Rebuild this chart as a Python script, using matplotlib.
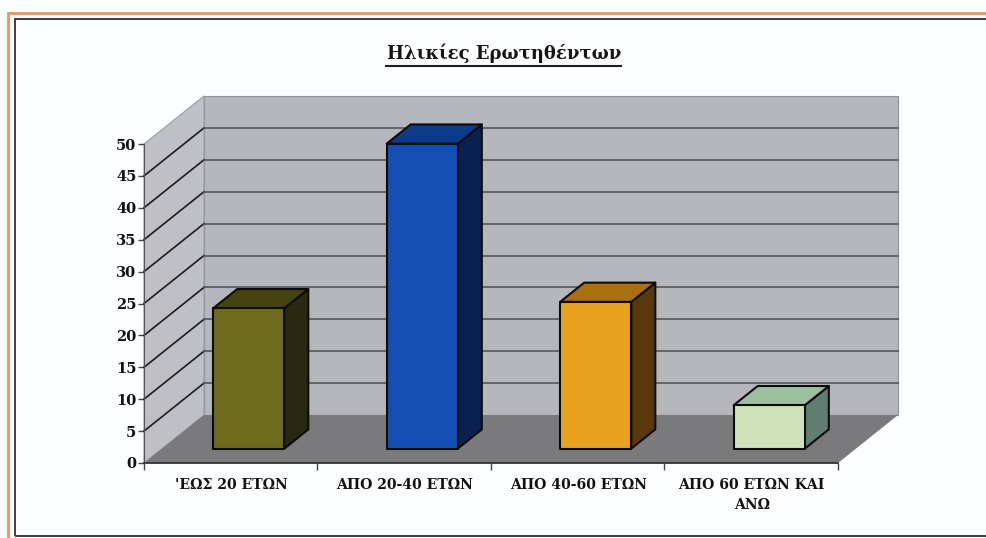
import matplotlib
matplotlib.use('Agg')
import matplotlib.pyplot as plt
from matplotlib.patches import Polygon, Rectangle

plt.rcParams['font.family'] = ['DejaVu Serif']

categories = ["'ΕΩΣ 20 ΕΤΩΝ", 'ΑΠΟ 20-40 ΕΤΩΝ', 'ΑΠΟ 40-60 ΕΤΩΝ', 'ΑΠΟ 60 ΕΤΩΝ ΚΑΙ\nΑΝΩ']
values = [22, 47.8, 23, 6.8]
front_colors = ['#6e6b1e', '#1450b4', '#e8a220', '#cfe2ba']
top_colors = ['#45430f', '#0e3a8a', '#a8700f', '#9cbf9e']
side_colors = ['#29290f', '#0a2050', '#5a3a0c', '#5f7d70']
yticks = list(range(0, 55, 5))

W, H = 987, 538
# depth of the 3d box, in data units
DX = 60 / 173.5
DY = 48 / 6.38
BAR_W = 0.41
D0, D1 = 0.30, 0.70


def proj(x, y, d):
    return (x + d * DX, y + d * DY)


fig = plt.figure(figsize=(W / 100, H / 100), dpi=100, facecolor='#fbfdfe')

# frame round the picture
fig.add_artist(Rectangle((8 / W, -0.1), 1.1, 0.1 + 1 - 13 / H, transform=fig.transFigure,
                         fill=False, ec='#f0935a', lw=2.0))
fig.add_artist(Rectangle((15 / W, 2 / H), 1.1, 1 - 21 / H, transform=fig.transFigure,
                         fill=False, ec='#3a3d45', lw=1.4))

ax = fig.add_axes([144 / W, (H - 463) / H, 694 / W, 319 / H])
ax.set_xlim(0, 4)
ax.set_ylim(0, 50)
ax.patch.set_visible(False)
for s in ['top', 'right']:
    ax.spines[s].set_visible(False)
ax.spines['left'].set_color('#555555')
ax.spines['bottom'].set_color('#333333')
ax.spines['bottom'].set_linewidth(1.3)

# walls and floor
ax.add_patch(Polygon([proj(0, 0, 1), proj(4, 0, 1), proj(4, 50, 1), proj(0, 50, 1)],
                     fc='#b5b7bc', ec='#8f9298', lw=0.8, clip_on=False, zorder=1))
ax.add_patch(Polygon([proj(0, 0, 0), proj(0, 0, 1), proj(0, 50, 1), proj(0, 50, 0)],
                     fc='#bec0c5', ec='#9a9da3', lw=0.8, clip_on=False, zorder=1))
ax.add_patch(Polygon([proj(0, 0, 0), proj(4, 0, 0), proj(4, 0, 1), proj(0, 0, 1)],
                     fc='#7a7a7c', ec='none', clip_on=False, zorder=1))

# gridlines
for v in yticks[1:-1]:
    p0, p1, p2 = proj(0, v, 0), proj(0, v, 1), proj(4, v, 1)
    ax.plot([p0[0], p1[0]], [p0[1], p1[1]], color='#1c1c20', lw=1.2, clip_on=False, zorder=2)
    ax.plot([p1[0], p2[0]], [p1[1], p2[1]], color='#55565a', lw=1.2, clip_on=False, zorder=2)

# bars
for i, v in enumerate(values):
    x0 = i + 0.5 - BAR_W / 2
    x1 = i + 0.5 + BAR_W / 2
    side = [proj(x1, 0, D0), proj(x1, 0, D1), proj(x1, v, D1), proj(x1, v, D0)]
    top = [proj(x0, v, D0), proj(x1, v, D0), proj(x1, v, D1), proj(x0, v, D1)]
    front = [proj(x0, 0, D0), proj(x1, 0, D0), proj(x1, v, D0), proj(x0, v, D0)]
    for pts, col in [(side, side_colors[i]), (top, top_colors[i]), (front, front_colors[i])]:
        ax.add_patch(Polygon(pts, fc=col, ec='#0c0c0c', lw=1.5, joinstyle='round',
                             clip_on=False, zorder=3))

ax.set_yticks(yticks)
ax.set_yticklabels([str(v) for v in yticks], fontsize=10.5, fontweight='bold', color='#111111')
ax.set_xticks(range(5))
ax.set_xticklabels([])
ax.tick_params(axis='y', length=4, width=1, color='#444444', pad=1.5)
ax.tick_params(axis='x', length=5, width=1, color='#444444')

for i, c in enumerate(categories):
    ax.annotate(c, xy=(i + 0.5, 0), xytext=(0.3, -10.5), textcoords='offset points',
                ha='center', va='top', fontsize=10.1, fontweight='bold', color='#111111',
                linespacing=1.6)

# underlined title
fig.text(504 / W, 1 - 53 / H, 'Ηλικίες Ερωτηθέντων', ha='center', va='center',
         fontsize=13, fontweight='bold', color='#151515')
fig.add_artist(plt.Line2D([386 / W, 621 / W], [1 - 66 / H, 1 - 66 / H], color='#222222', lw=1.5))

fig.savefig('out.png', dpi=100, facecolor=fig.get_facecolor())
